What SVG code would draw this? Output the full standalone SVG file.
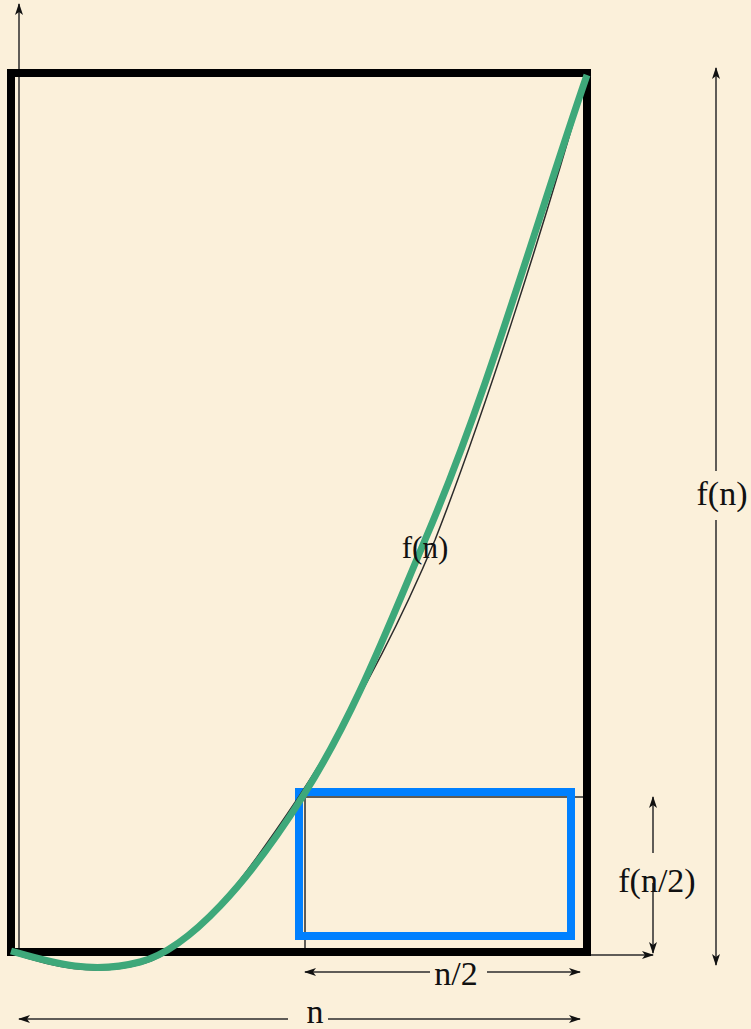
<svg xmlns="http://www.w3.org/2000/svg" width="751" height="1029" viewBox="0 0 751 1029">
<style>
.thin{fill:none;stroke:#2b2b2b;stroke-width:1.5}
.lbl{font-family:"Liberation Serif","Times New Roman",serif;font-size:34px;fill:#111;text-anchor:middle}
</style>
<defs>
<marker id="ah" viewBox="0 0 12 10" refX="11" refY="5" markerWidth="12" markerHeight="10" markerUnits="userSpaceOnUse" orient="auto-start-reverse">
<path d="M0,1 L12,5 L0,9 L3,5 Z" fill="#111"/>
</marker>
</defs>
<rect width="751" height="1029" fill="#FBF0DA"/>
<g id="axes">
<path class="thin" d="M19,948 V4" marker-end="url(#ah)"/>
<path class="thin" d="M591,955 H653" marker-end="url(#ah)"/>
<path class="thin" d="M305,952 V797 H587"/>
</g>
<g id="outer-box">
<rect x="11" y="73" width="576" height="879" fill="none" stroke="#000" stroke-width="8"/>
</g>
<g id="half-box">
<rect x="299" y="792" width="272" height="144" fill="none" stroke="#0080FF" stroke-width="8"/>
</g>
<g id="curve">
<path class="thin" d="M11,953 C50,966 95,978 145,963 C195,948 250,870 300,795 C350,718 398,628 435,540 C482,420 540,240 587,75"/>
<path d="M11,951 C50,962 90,975 140,962 C190,949 250,880 303,796 C354,716 388,627 425,540 C488,393 535,226 587,75" fill="none" stroke="#3EA87A" stroke-width="7"/>
<text class="lbl" x="425" y="558" style="font-size:31px">f(n)</text>
</g>
<g id="connectors">
<path class="thin" d="M716,471 V68" marker-end="url(#ah)"/>
<path class="thin" d="M716,520 V965" marker-end="url(#ah)"/>
<path class="thin" d="M653,853 V797" marker-end="url(#ah)"/>
<path class="thin" d="M653,883 V953" marker-end="url(#ah)"/>
<path class="thin" d="M430,972 H305" marker-end="url(#ah)"/>
<path class="thin" d="M487,972 H580" marker-end="url(#ah)"/>
<path class="thin" d="M288,1019 H19" marker-end="url(#ah)"/>
<path class="thin" d="M328,1019 H580" marker-end="url(#ah)"/>
</g>
<g id="labels">
<text class="lbl" x="722" y="505">f(n)</text>
<text class="lbl" x="657" y="892">f(n/2)</text>
<text class="lbl" x="456" y="985">n/2</text>
<text class="lbl" x="315" y="1023">n</text>
</g>
</svg>
